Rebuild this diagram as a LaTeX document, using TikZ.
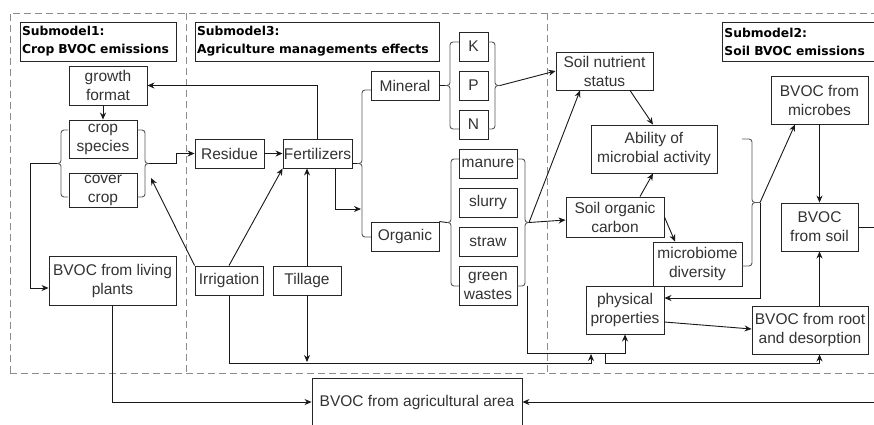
\documentclass[tikz,border=0pt]{standalone}
\usepackage{fontspec}
\setmainfont{Liberation Sans}
\newfontfamily\titlefont{DejaVu Sans}
\usetikzlibrary{arrows.meta}
\newcommand{\brc}[5]{%
  \draw[brc] (#3,#4) -- (#2,#4) -- (#2,{(#4+#5)/2}) -- (#1,{(#4+#5)/2});
  \draw[brc] (#3,#5) -- (#2,#5) -- (#2,{(#4+#5)/2}) -- (#1,{(#4+#5)/2});
}
\begin{document}
\begin{tikzpicture}[x=1pt,y=-1pt,
  bx/.style={draw=black!85, line width=0.9pt, fill=white, text=black!80, align=center, inner sep=0pt, font=\fontsize{15.5}{19}\selectfont},
  ttl/.style={draw=black!85, line width=0.9pt, align=left, inner xsep=2pt, inner ysep=0pt, font=\titlefont\bfseries\fontsize{12.3}{18}\selectfont},
  ar/.style={line width=0.9pt, draw=black!90, -{Stealth[length=7pt,width=6pt]}},
  ln/.style={line width=0.9pt, draw=black!90},
  dsh/.style={draw=black!45, line width=0.9pt, dash pattern=on 7pt off 4pt},
  brc/.style={draw=black!65, line width=0.9pt, rounded corners=3pt}]
\useasboundingbox (0,0) rectangle (874,424);
\clip (0,0) rectangle (874,424);
\fill[white] (0,0) rectangle (874,424);

% dashed frames
\draw[dsh] (10,373) -- (10,13) -- (880,13);
\draw[dsh] (10,373) -- (880,373);
\draw[dsh] (186,13) -- (186,373);
\draw[dsh] (547,13) -- (547,373);

% titles
\node[ttl, text width=152pt, minimum height=39pt] (t1) at (98,41.5) {Submodel1:\\Crop BVOC emissions};
\node[ttl, text width=240pt, minimum height=39pt] (t3) at (317,41.5) {Submodel3:\\Agriculture managements effects};
\node[ttl, text width=150pt, minimum height=39pt, anchor=west] (t2) at (722,41.5) {Submodel2:\\Soil BVOC emissions};

% submodel 1
\node[bx, minimum width=78pt, minimum height=39pt] (growth) at (108,85.5) {growth\\format};
\node[bx, minimum width=68pt, minimum height=38pt] (crop) at (103,139) {crop\\species};
\node[bx, minimum width=68pt, minimum height=34pt] (cover) at (103,190) {cover\\crop};
\node[bx, minimum width=127pt, minimum height=49pt] (bliv) at (112.5,280.5) {BVOC from living\\plants};

% submodel 3
\node[bx, minimum width=69pt, minimum height=29pt] (residue) at (229.5,153.5) {Residue};
\node[bx, minimum width=69pt, minimum height=29pt] (fert) at (317.5,153.5) {Fertilizers};
\node[bx, minimum width=68pt, minimum height=29pt] (mineral) at (405,85.5) {Mineral};
\node[bx, minimum width=68pt, minimum height=29pt] (organic) at (405,236.5) {Organic};
\node[bx, minimum width=29pt, minimum height=29pt] (K) at (473.5,46.5) {K};
\node[bx, minimum width=29pt, minimum height=29pt] (P) at (473.5,85.5) {P};
\node[bx, minimum width=29pt, minimum height=29pt] (N) at (473.5,124.5) {N};
\node[bx, minimum width=58pt, minimum height=29pt] (manure) at (488,163.5) {manure};
\node[bx, minimum width=58pt, minimum height=29pt] (slurry) at (488,202.5) {slurry};
\node[bx, minimum width=58pt, minimum height=29pt] (straw) at (488,241.5) {straw};
\node[bx, minimum width=58pt, minimum height=39pt] (green) at (488,285.5) {green\\wastes};
\node[bx, minimum width=68pt, minimum height=29pt] (irr) at (229,280.5) {Irrigation};
\node[bx, minimum width=68pt, minimum height=29pt] (till) at (307,280.5) {Tillage};

% submodel 2
\node[bx, minimum width=97pt, minimum height=38pt] (sns) at (604.5,71) {Soil nutrient\\status};
\node[bx, minimum width=126pt, minimum height=48pt] (ability) at (654,149) {Ability of\\microbial activity};
\node[bx, minimum width=98pt, minimum height=40pt] (soc) at (615,217) {Soil organic\\carbon};
\node[bx, minimum width=89pt, minimum height=44pt] (micro) at (697.5,264) {microbiome\\diversity};
\node[bx, minimum width=78pt, minimum height=48pt] (phys) at (625,310) {physical\\properties};
\node[bx, minimum width=97pt, minimum height=48pt] (bmic) at (819.5,100) {BVOC from\\microbes};
\node[bx, minimum width=77pt, minimum height=48pt] (bsoil) at (819.5,227) {BVOC\\from soil};
\node[bx, minimum width=116pt, minimum height=48pt] (broot) at (810,330) {BVOC from root\\and desorption};

% bottom
\node[bx, minimum width=210pt, minimum height=48pt] (bagr) at (417,402) {BVOC from agricultural area};

% braces
\brc{57}{61}{68}{130}{197}
\brc{149}{145}{138}{130}{197}
\brc{357}{362}{371}{90}{237}
\brc{445}{450}{459}{42}{129}
\brc{500}{495}{488}{42}{129}
\brc{447}{451}{459}{159}{286}
\brc{529}{525}{517}{159}{286}
\brc{760}{752}{742}{139}{266}
\coordinate (cropL) at (57,163.5);
\coordinate (cropR) at (149,163.5);
\coordinate (cropRb) at (151,178);
\coordinate (fertT) at (357,163.5);
\coordinate (fertV) at (361,209);
\coordinate (kpnL) at (445,85.5);
\coordinate (kpnR) at (500,85.5);
\coordinate (orgL) at (447,222.5);
\coordinate (orgR) at (529,222.5);
\coordinate (orgB) at (527,286);
\coordinate (micR) at (760,202.5);
\coordinate (junc) at (605,353);
\coordinate (tillEnd) at (307,362);
\coordinate (irrEnd) at (591,354);
\coordinate (offR) at (890,227);

% connectors
\draw[ar] (growth.south -| crop.north) -- (crop.north);
\draw[ar] (cropR) -- (176,163.5) |- (residue.west);
\draw[ar] (residue) -- (fert);
\draw[ar] (fert.north) |- (growth.east);
\draw[ln] (fert.east |- fertT) -- (fertT);
\draw[ar] ([xshift=17.5pt]fert.south) |- (fertV);
\draw[ln] (mineral.east) -- (kpnL);
\draw[ar] (kpnR) -- (sns.west);
\draw[ln] (organic.north east) -- (orgL);
\draw[ar] (orgR) -- ([yshift=-3pt]soc.west);
\draw[ar] (orgR) -- ([xshift=-24.5pt]sns.south);
\draw[ar] ([xshift=25.5pt]sns.south) -- ([xshift=-1pt]ability.north);
\draw[ar] ([xshift=25pt]soc.north) -- ([xshift=-1pt]ability.south);
\draw[ar] (soc.east) -- ([xshift=-22.5pt]micro.north);
\draw[ar] (micR) -- ([xshift=-24.5pt]bmic.south);
\draw[ar] (micR) |- ([yshift=12pt]phys.east);
\draw[ar] (bmic) -- (bsoil);
\draw[ar] (broot.north -| bsoil) -- (bsoil.south);
\draw[ar] ([yshift=-12pt]phys.east) -- ([yshift=1pt]broot.west);
\draw[ar] (bsoil.east) -- (offR) |- (bagr.east);
\draw[ar] (bliv.south) |- (bagr.west);
\draw[ar] (cropL) -- (30,163.5) |- ([yshift=-7.5pt]bliv.west);
\draw[ar] (irr.north west) -- (cropRb);
\draw[ar] (irr.north) -- (fert.south west);
\draw[ar] (till.north) -- (till.north |- fert.south);
\draw[ar] (till.south) -- (tillEnd);
\draw[ar] (irr.south) |- (591,363) -- (irrEnd);
\draw[ar] (orgB) -- (527,353) -| (phys.south);
\draw[ar] (junc) |- (819.5,363) -- (broot.south -| bsoil);
\end{tikzpicture}
\end{document}
